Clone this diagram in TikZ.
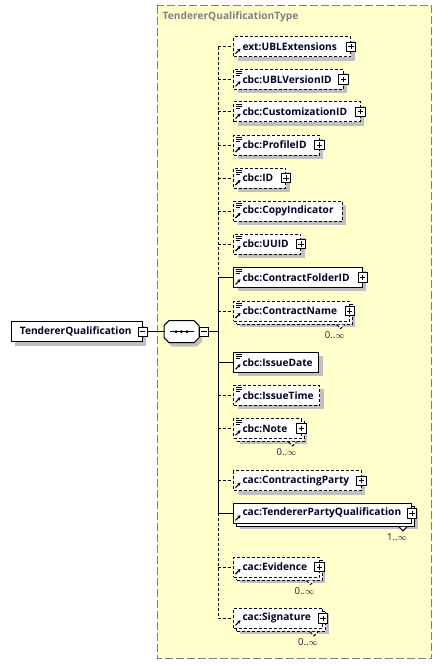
\documentclass[tikz,border=0pt]{standalone}
\usepackage{fontspec}
\setmainfont{Open Sans}
\usetikzlibrary{shadows,calc,arrows.meta}
\definecolor{yel}{RGB}{255,255,204}
\definecolor{framegray}{RGB}{128,128,128}
\definecolor{shad}{RGB}{192,192,192}
\definecolor{txt}{RGB}{0,0,40}
\definecolor{occ}{RGB}{64,0,64}
\begin{document}
\begin{tikzpicture}[x=1pt,y=-1pt,
  elem/.style={draw=black, fill=white, line width=1pt, minimum height=20pt, inner xsep=0pt, inner ysep=0pt, anchor=west, align=left, text width=#1pt, font=\fontsize{10.2}{12}\selectfont\bfseries, text=txt},
  opt/.style={dash pattern=on 3pt off 2pt},
  single/.style={general shadow={fill=shad, draw=none, shadow xshift=4pt, shadow yshift=-4pt}},
  multi/.style={general shadow={fill=shad, draw=none, shadow xshift=6pt, shadow yshift=-6pt}, general shadow={fill=white, draw=black, line width=1pt, #1, shadow xshift=3pt, shadow yshift=-3pt}},
  multi/.default=solid,
  pm/.style={draw=black, fill=white, line width=0.8pt, minimum size=9.5pt, inner sep=0pt, solid},
  plusbox/.style={pm, path picture={\draw[line width=0.8pt] (path picture bounding box.center) +(-2.7pt,0) -- +(2.7pt,0) (path picture bounding box.center) +(0,-2.7pt) -- +(0,2.7pt);}},
  minusbox/.style={pm, path picture={\draw[line width=0.8pt] (path picture bounding box.center) +(-2.7pt,0) -- +(2.7pt,0);}},
  occlab/.style={font=\fontsize{9.5}{11}\selectfont, text=occ, inner sep=0pt},
  conn/.style={line width=1pt, draw=black},
  notch/.style={line width=1pt, draw=black, fill=white},
  refarrow/.style={line width=1.1pt, -{Stealth[length=3pt,width=3.6pt]}},
  simpleicon/.style={line width=0.8pt}
]
\useasboundingbox (0,0) rectangle (444,664);
% frame
\draw[framegray, line width=1.2pt, dash pattern=on 8pt off 3pt, fill=yel] (157.3,5.5) rectangle (431.7,658.3);
\node[anchor=west, font=\fontsize{10.2}{12}\selectfont\bfseries, text=framegray, inner sep=0pt] (title) at (162.5,17) {TendererQualificationType};

% root
\node[elem=131, single] (root) at (10.7,331.7) {\hspace*{8.6pt}TendererQualification};
\node[minusbox] (rootm) at (root.east) {};

% sequence compositor
\node[minimum width=35pt, minimum height=22pt, inner sep=0pt] (seq) at (181.5,331.7) {};
\fill[shad] (172,324.7) -- (197,324.7) -- (202,329.7) -- (202,341.7) -- (197,346.7) -- (172,346.7) -- (167,341.7) -- (167,329.7) -- cycle;
\filldraw[draw=black, fill=white, line width=1pt] (169,320.7) -- (194,320.7) -- (199,325.7) -- (199,337.7) -- (194,342.7) -- (169,342.7) -- (164,337.7) -- (164,325.7) -- cycle;
\draw[line width=1pt] (169.5,331.7) -- (193.5,331.7);
\fill (176,331.7) circle[radius=1.7pt] (181.5,331.7) circle[radius=1.7pt] (187,331.7) circle[radius=1.7pt];
\node[minusbox] (seqm) at (204,331.7) {};
\draw[conn] (rootm.east) -- (seq.west);

\coordinate (sp) at (218,331.7);
\draw[conn] (seqm.east) -- (sp);

% elements
\node[elem=117, opt, single] (e1) at (233,46.7) {\hspace*{9pt}ext:UBLExtensions};
\node[elem=109.5, opt, single] (e2) at (233,79.3) {\hspace*{9pt}cbc:UBLVersionID};
\node[elem=126.5, opt, single] (e3) at (233,111.7) {\hspace*{9pt}cbc:CustomizationID};
\node[elem=85.5, opt, single] (e4) at (233,145) {\hspace*{9pt}cbc:ProfileID};
\node[elem=52, opt, single] (e5) at (233,178) {\hspace*{9pt}cbc:ID};
\node[elem=108.7, opt, single] (e6) at (233,211) {\hspace*{9pt}cbc:CopyIndicator};
\node[elem=67, opt, single] (e7) at (233,244) {\hspace*{9pt}cbc:UUID};
\node[elem=128.7, single] (e8) at (233,277.3) {\hspace*{9pt}cbc:ContractFolderID};
\node[elem=115.7, opt, multi=opt] (e9) at (233,311) {\hspace*{9pt}cbc:ContractName};
\node[elem=85.3, single] (e10) at (233,362.3) {\hspace*{9pt}cbc:IssueDate};
\node[elem=86.3, opt, single] (e11) at (233,395.3) {\hspace*{9pt}cbc:IssueTime};
\node[elem=67.5, opt, multi=opt] (e12) at (233,428.3) {\hspace*{9pt}cbc:Note};
\node[elem=127.5, opt, single] (e13) at (233,480.7) {\hspace*{9pt}cac:ContractingParty};
\node[elem=178, multi] (e14) at (233,513.3) {\hspace*{9pt}cac:TendererPartyQualification};
\node[elem=85.5, opt, multi=opt] (e15) at (233,567) {\hspace*{9pt}cac:Evidence};
\node[elem=89, opt, multi=opt] (e16) at (233,618.3) {\hspace*{9pt}cac:Signature};

% icons
\foreach \n in {e2,e3,e4,e5,e6,e7,e8,e9,e10,e11,e12}
  \draw[simpleicon] ($(\n.north west)+(2.5,3)$) -- ++(6,0) ($(\n.north west)+(2.5,5)$) -- ++(6,0) ($(\n.north west)+(2.5,7)$) -- ++(4,0);
\foreach \n in {e1,e2,e3,e4,e5,e6,e7,e8,e9,e10,e11,e12,e13,e14,e15,e16}
  \draw[refarrow] ($(\n.south west)+(2.5,-3.5)$) -- ++(5,-5);

% plus boxes
\foreach \n in {e1,e2,e3,e4,e5,e7,e8,e9,e12,e13,e14,e15,e16}
  \node[plusbox] (\n p) at (\n.east) {};

% notches and occurrence labels
\draw[notch, opt] ($(e9.south east)+(-13,3)$) -- ++(4,4) -- ++(4,-4);
\draw[notch, opt] ($(e12.south east)+(-13,3)$) -- ++(4,4) -- ++(4,-4);
\draw[notch] ($(e14.south east)+(-13,3)$) -- ++(4,4) -- ++(4,-4);
\draw[notch, opt] ($(e15.south east)+(-13,3)$) -- ++(4,4) -- ++(4,-4);
\draw[notch, opt] ($(e16.south east)+(-13,3)$) -- ++(4,4) -- ++(4,-4);
\node[occlab] (o9) at ($(e9.south east)+(-15,13.5)$) {0..$\infty$};
\node[occlab] (o12) at ($(e12.south east)+(-15,13.5)$) {0..$\infty$};
\node[occlab] (o14) at ($(e14.south east)+(-15,13.5)$) {1..$\infty$};
\node[occlab] (o15) at ($(e15.south east)+(-15,13.5)$) {0..$\infty$};
\node[occlab] (o16) at ($(e16.south east)+(-15,13.5)$) {0..$\infty$};

% spine and stubs
\draw[conn, opt] (e1.west -| sp) -- (e8.west -| sp);
\draw[conn] (e8.west -| sp) -- (e14.west -| sp);
\draw[conn, opt] (e14.west -| sp) -- (e16.west -| sp);
\foreach \n in {e1,e2,e3,e4,e5,e6,e7,e9,e11,e12,e13,e15,e16}
  \draw[conn, opt] (\n.west -| sp) -- (\n.west);
\foreach \n in {e8,e10,e14}
  \draw[conn] (\n.west -| sp) -- (\n.west);
\end{tikzpicture}
\end{document}
